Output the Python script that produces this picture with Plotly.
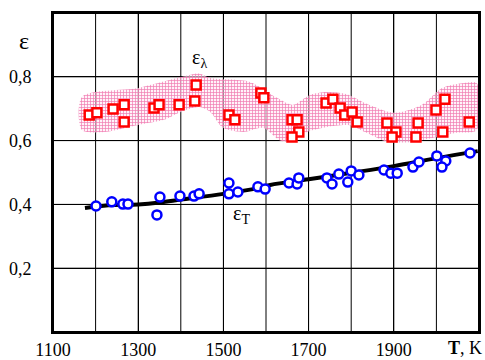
import plotly.graph_objects as go

# Red squares: spectral emissivity eps_lambda
t_lam = [1185, 1203, 1241, 1267, 1267, 1337, 1349, 1396, 1433, 1436, 1513, 1527,
         1588, 1595, 1661, 1673, 1677, 1661, 1741, 1757, 1774, 1785, 1802, 1814,
         1884, 1905, 1896, 1957, 1952, 1999, 2020, 2015, 2077]
e_lam = [0.680, 0.687, 0.699, 0.712, 0.658, 0.702, 0.712, 0.712, 0.724, 0.774, 0.680, 0.665,
         0.749, 0.734, 0.665, 0.665, 0.627, 0.611, 0.718, 0.730, 0.702, 0.680, 0.690, 0.658,
         0.655, 0.627, 0.611, 0.655, 0.611, 0.696, 0.730, 0.627, 0.658]

# Blue circles: total emissivity eps_T
t_tot = [1201, 1238, 1264, 1276, 1344, 1351, 1398, 1431, 1443, 1513, 1513, 1534, 1581, 1598,
         1654, 1673, 1677, 1743, 1755, 1771, 1800, 1792, 1818, 1877, 1893, 1908, 1945, 1959,
         2001, 2022, 2013, 2079]
e_tot = [0.395, 0.408, 0.401, 0.401, 0.367, 0.423, 0.426, 0.426, 0.433, 0.467, 0.433, 0.439, 0.455, 0.448,
         0.467, 0.464, 0.483, 0.483, 0.464, 0.495, 0.505, 0.470, 0.492, 0.508, 0.498, 0.498, 0.517, 0.533,
         0.552, 0.536, 0.517, 0.561]

# Fitted eps_T curve
t_fit = [1175, 1230, 1300, 1350, 1400, 1500, 1580, 1610, 1700, 1800, 1900, 2000, 2097]
e_fit = [0.389, 0.397, 0.400, 0.406, 0.415, 0.433, 0.451, 0.461, 0.479, 0.499, 0.520, 0.545, 0.567]

# Scatter band of eps_lambda
t_up = [1168, 1300, 1403, 1443, 1469, 1562, 1626, 1663, 1703, 1743, 1790, 1832, 1903, 1966, 2013, 2060, 2095]
e_up = [0.737, 0.765, 0.800, 0.810, 0.796, 0.784, 0.734, 0.712, 0.743, 0.752, 0.745, 0.718, 0.687, 0.712, 0.765, 0.780, 0.780]
t_lo = [1168, 1220, 1300, 1360, 1400, 1443, 1469, 1499, 1546, 1593, 1633, 1656, 1696, 1743, 1797, 1832, 1886, 1943, 1990, 2044, 2095]
e_lo = [0.633, 0.627, 0.649, 0.665, 0.690, 0.705, 0.690, 0.640, 0.627, 0.640, 0.600, 0.596, 0.627, 0.643, 0.648, 0.627, 0.596, 0.596, 0.608, 0.624, 0.633]

# Axis ticks
x_grid = [1200, 1300, 1400, 1500, 1600, 1700, 1800, 1900, 2000]
x_labels = [1100, 1300, 1500, 1700, 1900]
y_grid = [0.2, 0.4, 0.6, 0.8]
y_text = ["0,2", "0,4", "0,6", "0,8"]

FONT = "Liberation Serif, Times New Roman, serif"

fig = go.Figure()

band_x = t_up + t_lo[::-1] + [t_up[0]]
band_y = e_up + e_lo[::-1] + [e_up[0]]
fig.add_trace(go.Scatter(
    x=band_x, y=band_y, mode="lines", fill="toself",
    line=dict(width=0, color="rgba(0,0,0,0)", shape="spline", smoothing=0.8),
    fillcolor="rgba(255,255,255,0)",
    fillpattern=dict(shape="+", fgcolor="#f07ab0", bgcolor="rgba(255,235,245,0.6)",
                     size=3, solidity=0.4),
    hoverinfo="skip", showlegend=False))

fig.add_trace(go.Scatter(
    x=t_fit, y=e_fit, mode="lines",
    line=dict(color="black", width=4, shape="spline", smoothing=1.0),
    showlegend=False))

fig.add_trace(go.Scatter(
    x=t_tot, y=e_tot, mode="markers",
    marker=dict(symbol="circle", size=9, color="white",
                line=dict(color="#0000ff", width=2.5)),
    showlegend=False))

fig.add_trace(go.Scatter(
    x=t_lam, y=e_lam, mode="markers",
    marker=dict(symbol="square", size=9, color="white",
                line=dict(color="#ff0000", width=2.5)),
    showlegend=False))

# grid lines (drawn as shapes tied to axis values)
for gx in x_grid:
    fig.add_shape(type="line", xref="x", yref="paper", x0=gx, x1=gx, y0=0, y1=1,
                  line=dict(color="black", width=1), layer="below")
for gy in y_grid:
    fig.add_shape(type="line", xref="paper", yref="y", x0=0, x1=1, y0=gy, y1=gy,
                  line=dict(color="black", width=1), layer="below")
# frame
fig.add_shape(type="rect", xref="paper", yref="paper", x0=0, x1=1, y0=0, y1=1,
              line=dict(color="black", width=2), layer="above")

fig.add_annotation(x=1445, y=0.858, text="ε<sub>λ</sub>", showarrow=False,
                   font=dict(family=FONT, size=20, color="black"))
fig.add_annotation(x=1542, y=0.368, text="ε<sub>T</sub>", showarrow=False,
                   font=dict(family=FONT, size=20, color="black"))
fig.add_annotation(xref="paper", yref="paper", x=-0.085, y=0.96, text="ε",
                   showarrow=False, font=dict(family=FONT, size=24, color="black"))
fig.add_annotation(xref="paper", yref="paper", x=1.012, y=-0.05, xanchor="right",
                   yanchor="middle", text="<b>T</b>, K", showarrow=False,
                   font=dict(family=FONT, size=18, color="black"))

fig.update_xaxes(range=[1100, 2100], tickmode="array", tickvals=x_labels,
                 showgrid=True, gridcolor="black", gridwidth=1,
                 showline=True, linecolor="black", linewidth=2, mirror=True,
                 ticks="", zeroline=False,
                 tickfont=dict(family=FONT, size=18, color="black"))
fig.update_yaxes(range=[0, 1.0], tickmode="array", tickvals=y_grid, ticktext=y_text,
                 showgrid=True, gridcolor="black", gridwidth=1,
                 showline=True, linecolor="black", linewidth=2, mirror=True,
                 ticks="", zeroline=False, ticklabelstandoff=16,
                 tickfont=dict(family=FONT, size=18, color="black"))

fig.update_layout(width=485, height=360, autosize=False, template="none",
                  margin=dict(l=53, r=6, t=13, b=28, autoexpand=False),
                  paper_bgcolor="white", plot_bgcolor="white",
                  font=dict(family=FONT))

fig.write_html("out.html", config={"displayModeBar": False},
               post_script="document.body.style.margin='0';")
